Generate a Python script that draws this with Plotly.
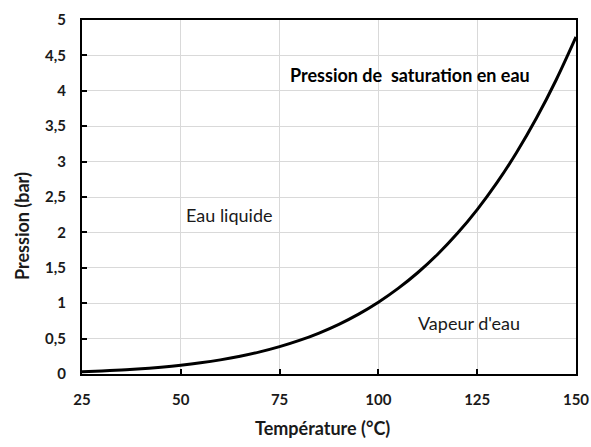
import plotly.graph_objects as go

# Saturation pressure of water (bar) versus temperature (°C)
temperature_c = [25, 30, 35, 40, 45, 50, 55, 60, 65, 70, 75, 80, 85, 90, 95,
                 100, 105, 110, 115, 120, 125, 130, 135, 140, 145, 150]
pressure_bar = [0.0317, 0.0425, 0.0563, 0.0738, 0.0959, 0.1235, 0.1576, 0.1995,
                0.2504, 0.3120, 0.3860, 0.4741, 0.5787, 0.7018, 0.8461, 1.0142,
                1.2090, 1.4338, 1.6918, 1.9867, 2.3222, 2.7026, 3.1320, 3.6150,
                4.1563, 4.7610]

x_ticks = [25, 50, 75, 100, 125, 150]
y_ticks = [0, 0.5, 1, 1.5, 2, 2.5, 3, 3.5, 4, 4.5, 5]
y_tick_text = ["0", "0,5", "1", "1,5", "2", "2,5", "3", "3,5", "4", "4,5", "5"]

FONT = "Lato, 'Open Sans', sans-serif"
TEXT = "#1a1a1a"

fig = go.Figure()
fig.add_trace(go.Scatter(
    x=temperature_c, y=pressure_bar, mode="lines",
    line=dict(color="black", width=3, shape="spline"),
    showlegend=False, hoverinfo="skip",
))

# Region labels inside the plot
fig.add_annotation(x=108.0, y=4.22, text="<b>Pression de  saturation en eau</b>",
                   showarrow=False, font=dict(family=FONT, size=18, color="black"))
fig.add_annotation(x=62.1, y=2.25, text="Eau liquide",
                   showarrow=False, font=dict(family=FONT, size=18, color=TEXT))
fig.add_annotation(x=122.9, y=0.72, text="Vapeur d'eau",
                   showarrow=False, font=dict(family=FONT, size=18, color=TEXT))

# Axis titles
fig.add_annotation(xref="paper", yref="paper", x=(322 - 82) / 494, y=-(428 - 374) / 354,
                   xanchor="center", yanchor="middle",
                   text="<b>Température (°C)</b>", showarrow=False,
                   font=dict(family=FONT, size=18, color=TEXT))
fig.add_annotation(xref="paper", yref="paper", x=-(82 - 22) / 494, y=(374 - 226) / 354,
                   xanchor="center", yanchor="middle",
                   text="<b>Pression (bar)</b>", showarrow=False, textangle=-90,
                   font=dict(family=FONT, size=18, color=TEXT))

axis_common = dict(
    showline=True, linecolor="black", linewidth=2, mirror=True,
    showgrid=True, gridcolor="#d9d9d9", gridwidth=1,
    ticks="inside", ticklen=5, tickwidth=2, tickcolor="black",
    zeroline=False, automargin=False,
    tickfont=dict(family=FONT, size=15, color=TEXT, weight="bold"),
)

fig.update_xaxes(
    range=[25, 150], tickvals=x_ticks, ticktext=[str(v) for v in x_ticks],
    ticklabelstandoff=11, **axis_common,
)
fig.update_yaxes(
    range=[0, 5], tickvals=y_ticks, ticktext=y_tick_text,
    ticklabelstandoff=11, **axis_common,
)

fig.update_layout(
    width=591, height=447,
    margin=dict(l=82, r=15, t=20, b=73),
    paper_bgcolor="white", plot_bgcolor="white",
)

fig.write_html("out.html")
